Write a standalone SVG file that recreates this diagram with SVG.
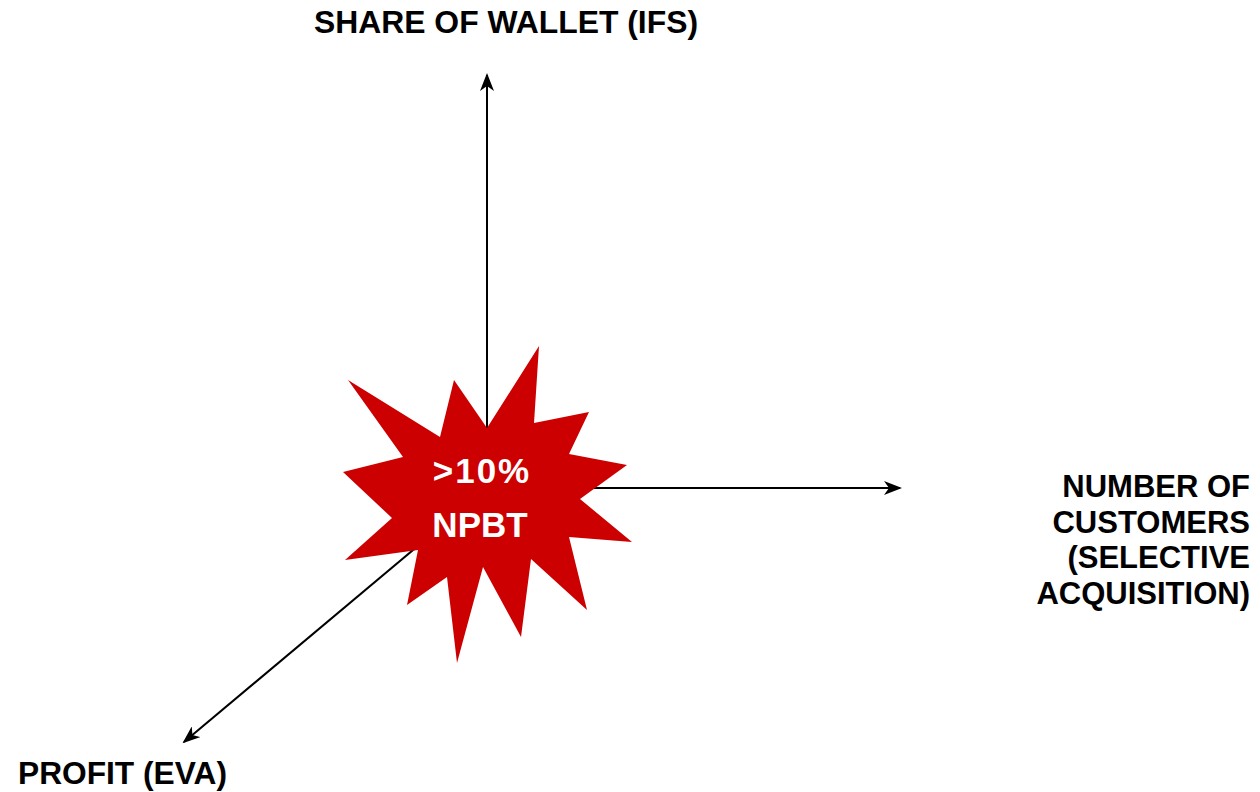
<svg xmlns="http://www.w3.org/2000/svg" width="1260" height="792" viewBox="0 0 1260 792">
<style>
.lbl{font-family:"Liberation Sans",Arial,sans-serif;font-weight:bold;font-size:31px;fill:#000}
.star{font-family:"Liberation Sans",Arial,sans-serif;font-weight:bold;font-size:35px;fill:#fff}
.ax{stroke:#000;stroke-width:2;fill:none;marker-end:url(#arr)}
</style>
<defs>
<marker id="arr" viewBox="0 0 18 14" refX="16" refY="7" markerWidth="18" markerHeight="14" markerUnits="userSpaceOnUse" orient="auto">
<path d="M0,0 L18,7 L0,14 L5,7 Z" fill="#000"/>
</marker>
</defs>
<rect width="1260" height="792" fill="#fff"/>
<g id="connectors">
<line class="ax" x1="487" y1="488" x2="487" y2="75"/>
<line class="ax" x1="487" y1="488" x2="900" y2="488"/>
<line class="ax" x1="487" y1="488" x2="184" y2="742"/>
</g>
<g id="npbt">
<polygon fill="#cc0000" points="539,346 534,423 589,412 569,454 627,465 580,499 632,542 569,537 587,610 531,559 521,637 483,567 457,663 447,577 407,605 418,550 345,560 392,518 343,472 403,457 348,380 440,437 454,380 487,428"/>
<text class="star" x="482" y="483" text-anchor="middle" letter-spacing="2">&gt;10%</text>
<text class="star" x="480" y="537" text-anchor="middle">NPBT</text>
</g>
<g id="share">
<text class="lbl" x="314" y="33" textLength="384" lengthAdjust="spacingAndGlyphs">SHARE OF WALLET (IFS)</text>
</g>
<g id="customers">
<text class="lbl" x="1250" y="497" text-anchor="end">NUMBER OF</text>
<text class="lbl" x="1250" y="533" text-anchor="end">CUSTOMERS</text>
<text class="lbl" x="1250" y="568" text-anchor="end">(SELECTIVE</text>
<text class="lbl" x="1250" y="604" text-anchor="end">ACQUISITION)</text>
</g>
<g id="profit">
<text class="lbl" x="18" y="784" textLength="209" lengthAdjust="spacingAndGlyphs">PROFIT (EVA)</text>
</g>
</svg>
